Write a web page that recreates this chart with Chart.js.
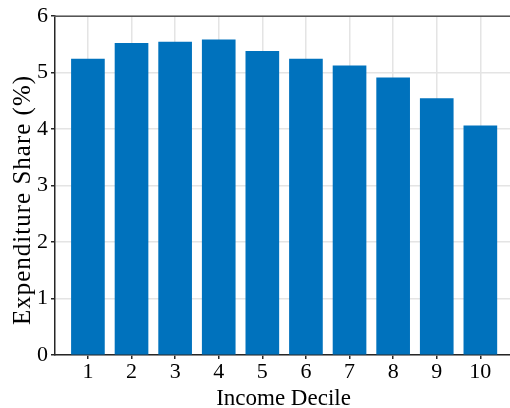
<!DOCTYPE html>
<html>
<head>
<meta charset="utf-8">
<script src="https://cdn.jsdelivr.net/npm/chart.js@4"></script>
<style>
  html, body { margin: 0; padding: 0; background: #fff; }
  #wrap { width: 510px; height: 408px; position: relative; }
</style>
</head>
<body>
<div id="wrap"><canvas id="c" width="510" height="408"></canvas></div>
<script>
// Income deciles and the share of spending in each
const deciles = [1, 2, 3, 4, 5, 6, 7, 8, 9, 10];
const shares = [5.24, 5.52, 5.54, 5.58, 5.38, 5.24, 5.12, 4.91, 4.54, 4.06];
const yTicks = [0, 1, 2, 3, 4, 5, 6];
const xTitle = 'Income Decile';
const yTitle = 'Expenditure Share (%)';

const FONT = "'Liberation Serif', 'Times New Roman', serif";
const BLUE = '#0072BD';
const GRID = '#e4e4e4';
const AXIS = '#262626';

// Top frame line and the two axis titles
const frameAndTitles = {
  id: 'frameAndTitles',
  afterDraw(chart) {
    const { ctx, chartArea: a } = chart;
    ctx.save();
    ctx.strokeStyle = '#555555';
    ctx.lineWidth = 1.5;
    ctx.beginPath();
    ctx.moveTo(a.left - 1, a.top);
    ctx.lineTo(a.right, a.top);
    ctx.stroke();

    ctx.fillStyle = '#000';
    ctx.textAlign = 'center';
    ctx.textBaseline = 'alphabetic';
    ctx.font = "23px " + FONT;
    ctx.fillText(xTitle, (a.left + a.right) / 2 + 1, 405);

    ctx.translate(30, 200);
    ctx.rotate(-Math.PI / 2);
    ctx.font = "25px " + FONT;
    if ('letterSpacing' in ctx) ctx.letterSpacing = '1px';
    ctx.fillText(yTitle, 0, 0);
    ctx.restore();
  }
};

new Chart(document.getElementById('c'), {
  type: 'bar',
  data: {
    datasets: [{
      data: deciles.map((d, i) => ({ x: d, y: shares[i] })),
      backgroundColor: BLUE,
      borderWidth: 0,
      barThickness: 33
    }]
  },
  options: {
    responsive: false,
    animation: false,
    devicePixelRatio: 1,
    layout: { padding: { top: 15, right: 0, left: 0, bottom: 0 } },
    plugins: { legend: { display: false }, tooltip: { enabled: false } },
    scales: {
      x: {
        type: 'linear',
        offset: false,
        min: 0.245,
        max: 10.68,
        afterBuildTicks: s => { s.ticks = deciles.map(v => ({ value: v })); },
        afterFit: s => { s.height = 53; },
        grid: { offset: false, color: GRID, lineWidth: 1.5, tickColor: AXIS, tickLength: 4, drawTicks: true },
        border: { color: AXIS, width: 1.5 },
        ticks: {
          color: '#000',
          font: { family: FONT, size: 22 },
          padding: 0,
          maxRotation: 0,
          autoSkip: false,
          callback: v => String(v)
        }
      },
      y: {
        min: 0,
        max: 6,
        afterBuildTicks: s => { s.ticks = yTicks.map(v => ({ value: v })); },
        afterFit: s => { s.width = 55; },
        grid: { color: GRID, lineWidth: 1.5, tickColor: AXIS, tickLength: 4, drawTicks: true },
        border: { color: AXIS, width: 1.5 },
        ticks: {
          color: '#000',
          font: { family: FONT, size: 22 },
          padding: 3
        }
      }
    }
  },
  plugins: [frameAndTitles]
});
</script>
</body>
</html>
